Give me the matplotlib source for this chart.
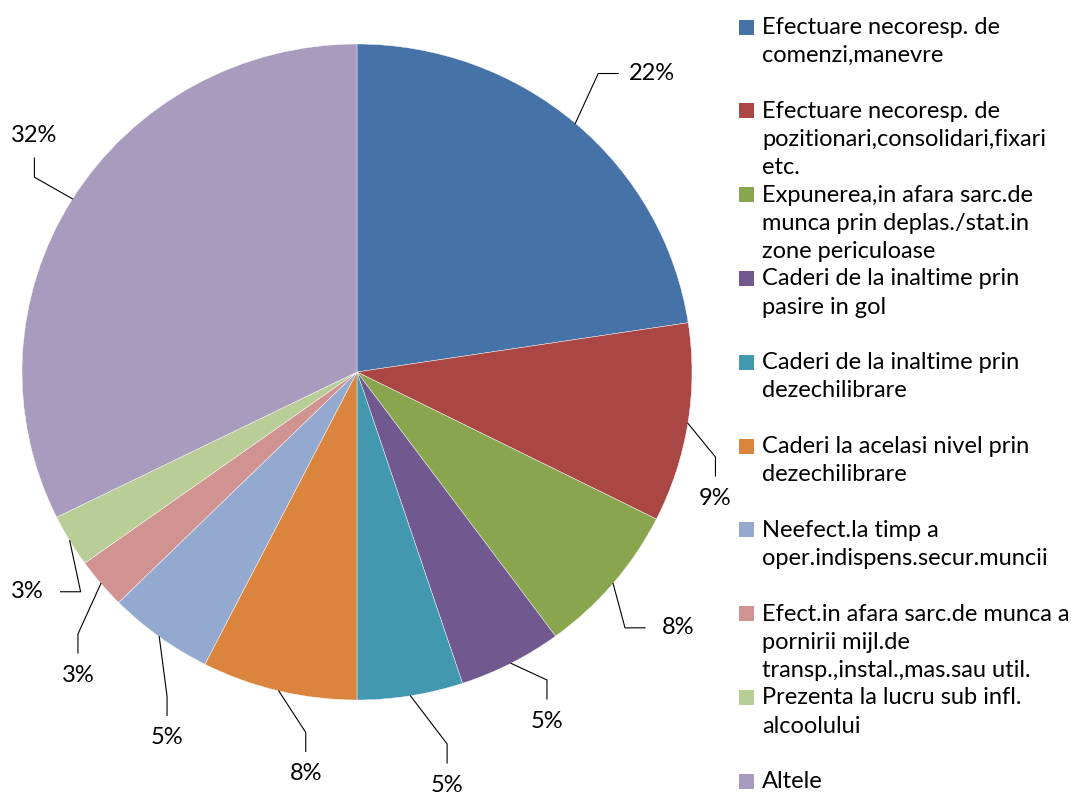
import matplotlib.pyplot as plt
import numpy as np
from matplotlib.patches import Rectangle

plt.rcParams['font.family'] = ['Lato', 'DejaVu Sans']

categories = [
    "Efectuare necoresp. de\ncomenzi,manevre",
    "Efectuare necoresp. de\npozitionari,consolidari,fixari\netc.",
    "Expunerea,in afara sarc.de\nmunca prin deplas./stat.in\nzone periculoase",
    "Caderi de la inaltime prin\npasire in gol",
    "Caderi de la inaltime prin\ndezechilibrare",
    "Caderi la acelasi nivel prin\ndezechilibrare",
    "Neefect.la timp a\noper.indispens.secur.muncii",
    "Efect.in afara sarc.de munca a\npornirii mijl.de\ntransp.,instal.,mas.sau util.",
    "Prezenta la lucru sub infl.\nalcoolului",
    "Altele",
]
values = [22.6, 9.8, 7.5, 5.0, 5.1, 7.5, 5.1, 2.5, 2.6, 32.3]
pct_labels = ["22%", "9%", "8%", "5%", "5%", "8%", "5%", "3%", "3%", "32%"]
colors = ["#4572A7", "#AA4643", "#89A54E", "#71588F", "#4198AF",
          "#DB843D", "#93A9CF", "#D19392", "#B9CD96", "#A99BBD"]

# label placement (pie units, radius = 1) and how the leader ends
label_pos = [(0.88, 0.91), (1.07, -0.385), (0.96, -0.78), (0.567, -1.065),
             (0.269, -1.26), (-0.153, -1.225), (-0.567, -1.115), (-0.833, -0.925),
             (-0.985, -0.67), (-0.963, 0.72)]
leader_end = ["h", "v", "h", "v", "v", "v", "v", "v", "h", "v"]

W, H = 1080, 793
cx, cy, Rx, Ry = 357, 372, 335, 328

fig = plt.figure(figsize=(W / 100, H / 100), dpi=100)
ax = fig.add_axes([0, 0, 1, 1])

wedges, _ = ax.pie(values, colors=colors, startangle=90, counterclock=False,
                   radius=1, center=(0, 0), frame=True,
                   wedgeprops=dict(edgecolor="white", linewidth=0.3))
ax.set_aspect("auto")
ax.set_xlim(-cx / Rx, (W - cx) / Rx)
ax.set_ylim((cy - H) / Ry, cy / Ry)
ax.axis("off")

for w, txt, (tx, ty), mode in zip(wedges, pct_labels, label_pos, leader_end):
    mid = np.deg2rad((w.theta1 + w.theta2) / 2)
    ex, ey = np.cos(mid), np.sin(mid)
    if mode == "h":
        side = 1 if tx > ex else -1
        hx = tx - side * 0.1
        px = hx - side * 0.06
        ax.plot([ex, px, hx], [ey, ty, ty], color="black", lw=0.8)
    else:
        up = 1 if ey > ty else -1
        vy = ty + up * 0.068
        py = vy + up * 0.058
        ax.plot([ex, tx, tx], [ey, py, vy], color="black", lw=0.8)
    ax.text(tx, ty, txt, ha="center", va="center", fontsize=17, color="black")

# legend drawn by hand to keep Excel's fixed entry spacing
for i, (lab, col) in enumerate(zip(categories, colors)):
    y = 27 + i * 83.8
    fig.patches.append(Rectangle((739 / W, 1 - (y + 7.5) / H), 15 / W, 15 / H,
                                 transform=fig.transFigure, facecolor=col,
                                 edgecolor="none"))
    fig.text(762 / W, 1 - (y - 10) / H, lab, ha="left", va="top",
             fontsize=17, linespacing=1.42, color="black")

fig.savefig("out.png", dpi=100)
